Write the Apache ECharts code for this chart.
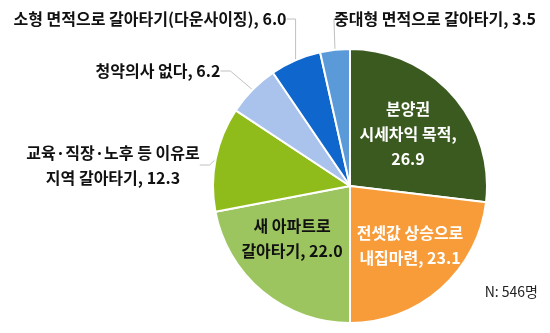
<!DOCTYPE html>
<html>
<head>
<meta charset="utf-8">
<script src="https://cdn.jsdelivr.net/npm/echarts@6/dist/echarts.min.js"></script>
<style>
  html, body { margin: 0; padding: 0; background: #fff; }
  #chart { width: 550px; height: 333px; }
</style>
</head>
<body>
<div id="chart"></div>
<script>
// Reasons for purchase (share of respondents, %)
const categories = [
  '분양권\n시세차익 목적',
  '전셋값 상승으로\n내집마련',
  '새 아파트로\n갈아타기',
  '교육·직장·노후 등 이유로\n지역 갈아타기',
  '청약의사 없다',
  '소형 면적으로 갈아타기(다운사이징)',
  '중대형 면적으로 갈아타기'
];
const values = [26.9, 23.1, 22.0, 12.3, 6.2, 6.0, 3.5];
const separators = [',\n', ', ', ', ', ', ', ', ', ', ', ', '];
const colors = ['#3b5a1f', '#f89c3a', '#9dc55f', '#8fbc1a', '#a9c3ec', '#0f66cc', '#5a9ad8'];
const labelColors = ['#ffffff', '#ffffff', '#111111', '#111111', '#111111', '#111111', '#111111'];
const sampleNote = 'N: 546명';

// label centres for each caption
const labelPos = {
  0: [408, 134],
  1: [410, 245],
  2: [292, 238],
  3: [113, 165],
  4: [158, 71],
  5: [150, 19],
  6: [435, 19]
};

const font = '"Noto Sans CJK KR", "Noto Sans", sans-serif';

const data = categories.map((name, i) => {
  const outside = i >= 3;
  return {
    name: name,
    value: values[i],
    itemStyle: { color: colors[i] },
    label: {
      position: outside ? 'outside' : 'inside',
      color: labelColors[i],
      lineHeight: 25
    },
    labelLine: { show: outside }
  };
});

const chart = echarts.init(document.getElementById('chart'), null, { renderer: 'canvas' });
chart.setOption({
  animation: false,
  backgroundColor: '#ffffff',
  graphic: [{
    type: 'text',
    right: 12,
    top: 285,
    style: { text: sampleNote, font: '14px ' + font, fill: '#222' }
  }],
  series: [{
    type: 'pie',
    center: [350, 186],
    radius: [0, 137],
    startAngle: 90,
    clockwise: true,
    avoidLabelOverlap: false,
    itemStyle: { borderColor: '#ffffff', borderWidth: 2 },
    label: {
      show: true,
      fontFamily: font,
      fontSize: 16,
      fontWeight: 'bold',
      align: 'center',
      formatter: p => p.name + separators[p.dataIndex] + p.value.toFixed(1)
    },
    labelLine: {
      show: true,
      length: 10,
      length2: 10,
      lineStyle: { color: '#c0c0c0', width: 1 }
    },
    labelLayout: function (params) {
      const pos = labelPos[params.dataIndex];
      if (!pos) return {};
      return { x: pos[0], y: pos[1], align: 'center', verticalAlign: 'middle' };
    },
    data: data
  }]
});
</script>
</body>
</html>
